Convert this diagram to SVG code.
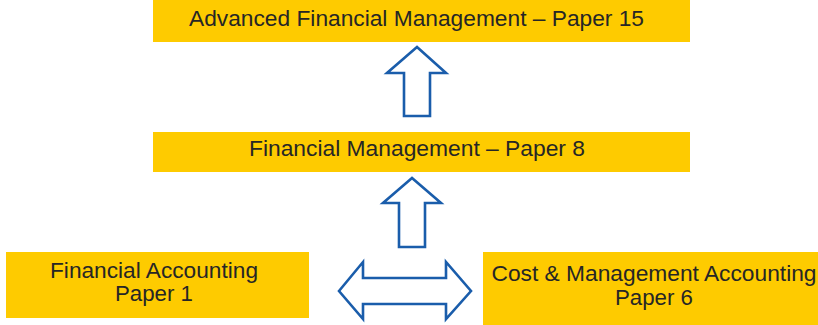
<svg xmlns="http://www.w3.org/2000/svg" width="818" height="325" viewBox="0 0 818 325">
<style>
.box{fill:#FECB00}
.t{font-family:"Liberation Sans",Arial,sans-serif;font-size:22px;fill:#262626;text-anchor:middle}
.arr{fill:#fff;stroke:#1A5DAB;stroke-width:2.6;stroke-linejoin:miter}
</style>
<rect width="818" height="325" fill="#fff"/>
<g id="node-afm">
<rect class="box" x="153" y="0" width="537" height="42"/>
<text class="t" x="416.5" y="26" textLength="455" lengthAdjust="spacingAndGlyphs">Advanced Financial Management – Paper 15</text>
</g>
<g id="node-fm">
<rect class="box" x="153" y="132" width="537" height="40"/>
<text class="t" x="417" y="156" textLength="336" lengthAdjust="spacingAndGlyphs">Financial Management – Paper 8</text>
</g>
<g id="node-fa">
<rect class="box" x="6" y="252" width="303" height="66"/>
<text class="t" x="154" y="278" textLength="208" lengthAdjust="spacingAndGlyphs">Financial Accounting</text>
<text class="t" x="154" y="301" textLength="78" lengthAdjust="spacingAndGlyphs">Paper 1</text>
</g>
<g id="node-cma">
<rect class="box" x="483" y="252" width="335" height="73"/>
<text class="t" x="654" y="281" textLength="325" lengthAdjust="spacingAndGlyphs">Cost &amp; Management Accounting</text>
<text class="t" x="654" y="305" textLength="78" lengthAdjust="spacingAndGlyphs">Paper 6</text>
</g>
<g id="connectors">
<polygon class="arr" points="417,47 387,73 404,73 404,116 430,116 430,73 446,73"/>
<polygon class="arr" points="412,178 383,203 399,203 399,247 425,247 425,203 441,203"/>
<polygon class="arr" points="339,291 363,262 363,278 446,278 446,262 471,291 446,319 446,304 363,304 363,319"/>
</g>
</svg>
